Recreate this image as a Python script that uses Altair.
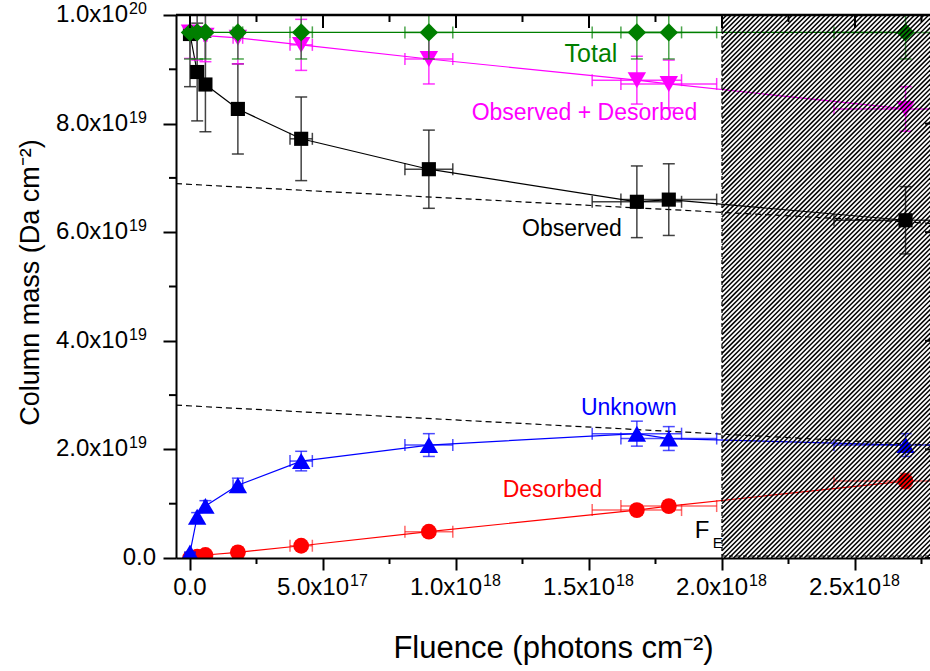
import numpy as np
import pandas as pd
import altair as alt

# ---------------- data ----------------
fluence = [0.0, 2.7e16, 5.8e16, 1.8e17, 4.18e17, 8.98e17, 1.68e18, 1.80e18, 2.69e18]
fluence_err = [0.0, 2.7e15, 5.8e15, 1.8e16, 4.2e16, 9.0e16, 1.68e17, 1.80e17, 2.69e17]

observed = [9.65e19, 8.95e19, 8.72e19, 8.27e19, 7.72e19, 7.16e19, 6.56e19, 6.60e19, 6.22e19]
observed_err = [9.7e18, 9.0e18, 8.7e18, 8.3e18, 7.7e18, 7.2e18, 6.6e18, 6.6e18, 6.2e18]

total = [9.68e19, 9.68e19, 9.68e19, 9.68e19, 9.68e19, 9.68e19, 9.68e19, 9.68e19, 9.68e19]
total_err = [4.9e18, 4.9e18, 4.9e18, 4.9e18, 4.9e18, 4.9e18, 4.9e18, 4.9e18, 4.9e18]

obs_des = [9.68e19, 9.65e19, 9.62e19, 9.58e19, 9.45e19, 9.19e19, 8.80e19, 8.73e19, 8.27e19]
obs_des_err = [4.8e18, 4.8e18, 4.8e18, 4.8e18, 4.7e18, 4.6e18, 4.4e18, 4.4e18, 4.1e18]

unknown = [1.0e18, 7.6e18, 9.6e18, 1.34e19, 1.785e19, 2.08e19, 2.29e19, 2.20e19, 2.08e19]
unknown_err = [1.0e17, 7.6e17, 9.6e17, 1.3e18, 1.8e18, 2.1e18, 2.3e18, 2.2e18, 2.1e18]

desorbed = [0.0, 2.5e17, 5.5e17, 1.05e18, 2.26e18, 4.84e18, 8.83e18, 9.57e18, 1.417e19]
desorbed_err = [0.0, 2.5e16, 5.5e16, 1.1e17, 2.3e17, 4.8e17, 8.8e17, 9.6e17, 1.4e18]

# dashed guide lines (values at the two ends of the fluence axis)
fit_fluence = [-5.26e16, 2.782e18]
observed_fit = [6.894e19, 6.164e19]
unknown_fit = [2.815e19, 2.079e19]

# hatched region start (F_E)
fe_fluence = 2.0e18

# tick values / labels (mantissa part and exponent part)
x_tick_values = [0.0, 5e17, 1e18, 1.5e18, 2e18, 2.5e18]
x_tick_main = ["0.0", "5.0x10", "1.0x10", "1.5x10", "2.0x10", "2.5x10"]
x_tick_exp = ["", "17", "18", "18", "18", "18"]
x_minor_values = [2.5e17, 7.5e17, 1.25e18, 1.75e18, 2.25e18, 2.75e18]
y_tick_values = [0.0, 2e19, 4e19, 6e19, 8e19, 1e20]
y_tick_main = ["0.0", "2.0x10", "4.0x10", "6.0x10", "8.0x10", "1.0x10"]
y_tick_exp = ["", "19", "19", "19", "19", "20"]
y_minor_values = [1e19, 3e19, 5e19, 7e19, 9e19]

# series annotations
ann_text = ["Total", "Observed + Desorbed", "Observed", "Unknown", "Desorbed"]
ann_x = [1.5075e18, 1.483e18, 1.436e18, 1.650e18, 1.363e18]
ann_y = [9.13e19, 8.06e19, 5.925e19, 2.631e19, 1.117e19]
ann_color = ["#007F00", "#FF00FF", "#000000", "#0000FF", "#FF0000"]
ann_size = [25, 23, 23, 23, 23]

# ---------------- layout ----------------
W, H = 754, 543
XMIN, XMAX = -5.26e16, 2.782e18
YMIN, YMAX = 0.0, 1e20
FONT = "Liberation Sans"
LAB = 24      # tick label size
EXP = 16      # exponent size

xscale = alt.Scale(domain=[XMIN, XMAX], nice=False, zero=False)
yscale = alt.Scale(domain=[YMIN, YMAX], nice=False, zero=False)

common_axis = dict(grid=False, domainColor="black", domainWidth=2, tickColor="black",
                   tickWidth=2, labels=False, titleFont=FONT,
                   titleColor="black", titleFontWeight="normal", zindex=1)

xaxis = alt.Axis(values=x_tick_values, title="Fluence (photons cm\u207b\u00b2)",
                 titleFontSize=31, titleY=99, titleBaseline="alphabetic", tickSize=12,
                 **common_axis)
yaxis = alt.Axis(values=y_tick_values, title="Column mass (Da cm\u207b\u00b2)",
                 titleFontSize=27, titleAngle=270, titleX=-146, titleY=267,
                 titleBaseline="middle", titleAlign="center", tickSize=13, **common_axis)


def X(f):
    return alt.X(f, type="quantitative", scale=xscale, axis=xaxis)


def Y(f):
    return alt.Y(f, type="quantitative", scale=yscale, axis=yaxis)


def series_layers(yvals, yerrs, color, shape, size, err_color, err_opacity):
    df = pd.DataFrame({"x": fluence, "xerr": fluence_err, "y": yvals, "yerr": yerrs})
    df["xlo"] = df["x"] - df["xerr"]
    df["xhi"] = df["x"] + df["xerr"]
    df["ylo"] = df["y"] - df["yerr"]
    df["yhi"] = df["y"] + df["yerr"]
    ycaps = pd.concat([pd.DataFrame({"x": df["x"], "c": df["ylo"]}),
                       pd.DataFrame({"x": df["x"], "c": df["yhi"]})])
    xcaps = pd.concat([pd.DataFrame({"y": df["y"], "c": df["xlo"]}),
                       pd.DataFrame({"y": df["y"], "c": df["xhi"]})])
    base = alt.Chart(df)
    layers = [
        base.mark_rule(color=err_color, strokeWidth=1.5, opacity=err_opacity, clip=True)
            .encode(x=X("x"), y=Y("ylo"), y2="yhi"),
        alt.Chart(ycaps).mark_tick(color=err_color, orient="horizontal", size=12,
                                   thickness=1.5, opacity=err_opacity, clip=True)
            .encode(x=X("x"), y=Y("c")),
        base.mark_rule(color=err_color, strokeWidth=1.5, opacity=err_opacity, clip=True)
            .encode(y=Y("y"), x=X("xlo"), x2="xhi"),
        alt.Chart(xcaps).mark_tick(color=err_color, orient="vertical", size=12,
                                   thickness=1.5, opacity=err_opacity, clip=True)
            .encode(x=X("c"), y=Y("y")),
        base.mark_line(color=color, strokeWidth=1.2, clip=True).encode(x=X("x"), y=Y("y")),
        base.mark_point(color=color, fill=color, filled=True, shape=shape, size=size,
                        opacity=1, clip=True).encode(x=X("x"), y=Y("y")),
    ]
    return layers


layers = []

# dashed guide lines
fit_df = pd.DataFrame({"x": fit_fluence + fit_fluence,
                       "y": observed_fit + unknown_fit,
                       "g": ["obs", "obs", "unk", "unk"]})
layers.append(alt.Chart(fit_df).mark_line(color="black", strokeWidth=1.2,
                                          strokeDash=[6, 4], clip=True)
              .encode(x=X("x"), y=Y("y"), detail="g:N"))

layers += series_layers(observed, observed_err, "#000000", "square", 200, "#222222", 0.85)
layers += series_layers(desorbed, desorbed_err, "#FF0000", "circle", 250, "#FF0000", 0.6)
layers += series_layers(unknown, unknown_err, "#0000FF", "triangle-up", 340, "#0000FF", 0.7)
layers += series_layers(obs_des, obs_des_err, "#FF00FF", "triangle-down", 340, "#FF00FF", 0.8)
layers += series_layers(total, total_err, "#007F00", "diamond", 340, "#007F00", 0.7)

# annotations
ann_df = pd.DataFrame({"t": ann_text, "x": ann_x, "y": ann_y, "c": ann_color, "s": ann_size})
layers.append(alt.Chart(ann_df).mark_text(font=FONT, align="center", baseline="alphabetic")
              .encode(x=X("x"), y=Y("y"), text="t:N",
                      color=alt.Color("c:N", scale=None),
                      size=alt.Size("s:Q", scale=None)))

# hatched region (diagonal stripes, 45 degrees on screen)
xpp = (XMAX - XMIN) / W
ypp = (YMAX - YMIN) / H
u_fe = (fe_fluence - XMIN) / xpp
rows = []
for c in np.arange(u_fe - H, W + 10, 4.7):
    v0 = max(0.0, u_fe - c)
    v1 = float(H)
    rows.append({"x1": XMIN + (c + v0) * xpp, "y1": v0 * ypp,
                 "x2": XMIN + (c + v1) * xpp, "y2": v1 * ypp})
hatch_df = pd.DataFrame(rows)
layers.append(alt.Chart(hatch_df).mark_rule(color="black", strokeWidth=1.5, clip=True)
              .encode(x=X("x1"), y=Y("y1"), x2="x2", y2="y2"))

fe_df = pd.DataFrame({"fe": [fe_fluence]})
layers.append(alt.Chart(fe_df).mark_rule(color="black", strokeWidth=1.2, strokeDash=[4, 3])
              .encode(x=X("fe"), y=alt.value(0), y2=alt.value(H)))
layers.append(alt.Chart(fe_df).mark_rule(color="black", strokeWidth=1.2, strokeDash=[4, 3])
              .encode(x=X("fe"), x2=alt.value(W), y=alt.value(H - 2)))

# F_E label
fe_lab = pd.DataFrame({"t": ["F", "E"], "x": [1.898e18, 1.965e18], "y": [3.62e18, 1.90e18],
                       "s": [24, 15]})
layers.append(alt.Chart(fe_lab).mark_text(font=FONT, align="left", baseline="alphabetic",
                                          color="black")
              .encode(x=X("x"), y=Y("y"), text="t:N", size=alt.Size("s:Q", scale=None)))

# frame and extra ticks
xmin_df = pd.DataFrame({"v": x_minor_values})
xmaj_df = pd.DataFrame({"v": x_tick_values})
ymin_df = pd.DataFrame({"v": y_minor_values})
ymaj_df = pd.DataFrame({"v": y_tick_values})
layers.append(alt.Chart(xmin_df).mark_rule(color="black", strokeWidth=2)
              .encode(x=X("v"), y=alt.value(H), y2=alt.value(H + 6)))
layers.append(alt.Chart(xmin_df).mark_rule(color="black", strokeWidth=2)
              .encode(x=X("v"), y=alt.value(0), y2=alt.value(7)))
layers.append(alt.Chart(xmaj_df).mark_rule(color="black", strokeWidth=2)
              .encode(x=X("v"), y=alt.value(0), y2=alt.value(13)))
layers.append(alt.Chart(ymin_df).mark_rule(color="black", strokeWidth=2)
              .encode(y=Y("v"), x=alt.value(-7), x2=alt.value(0)))
layers.append(alt.Chart(ymaj_df).mark_rule(color="black", strokeWidth=2)
              .encode(y=Y("v"), x=alt.value(W - 5), x2=alt.value(W)))
layers.append(alt.Chart(fe_df).mark_rule(color="black", strokeWidth=2.5)
              .encode(x=alt.value(0), x2=alt.value(W), y=alt.value(0)))

# tick labels with raised exponents
xlab_df = pd.DataFrame({"v": x_tick_values, "m": x_tick_main, "e": x_tick_exp})
ylab_df = pd.DataFrame({"v": y_tick_values, "m": y_tick_main, "e": y_tick_exp})
txt = dict(font=FONT, color="black")
layers.append(alt.Chart(xlab_df).transform_filter("datum.e != ''")
              .mark_text(align="right", baseline="top", fontSize=LAB, dx=26, **txt)
              .encode(x=X("v"), y=alt.value(H + 18), text="m:N"))
layers.append(alt.Chart(xlab_df).transform_filter("datum.e != ''")
              .mark_text(align="left", baseline="top", fontSize=EXP, dx=27, **txt)
              .encode(x=X("v"), y=alt.value(H + 15), text="e:N"))
layers.append(alt.Chart(xlab_df).transform_filter("datum.e == ''")
              .mark_text(align="center", baseline="top", fontSize=LAB, **txt)
              .encode(x=X("v"), y=alt.value(H + 18), text="m:N"))
layers.append(alt.Chart(ylab_df).transform_filter("datum.e != ''")
              .mark_text(align="right", baseline="middle", fontSize=LAB, **txt)
              .encode(y=Y("v"), x=alt.value(-48), text="m:N"))
layers.append(alt.Chart(ylab_df).transform_filter("datum.e != ''")
              .mark_text(align="left", baseline="middle", fontSize=EXP, dy=-6, **txt)
              .encode(y=Y("v"), x=alt.value(-47), text="e:N"))
layers.append(alt.Chart(ylab_df).transform_filter("datum.e == ''")
              .mark_text(align="right", baseline="middle", fontSize=LAB, **txt)
              .encode(y=Y("v"), x=alt.value(-20), text="m:N"))

chart = alt.layer(*layers).properties(
    width=W, height=H,
    autosize=alt.AutoSizeParams(type="none"),
    padding={"left": 176, "top": 15, "right": 0, "bottom": 113},
).configure_view(stroke=None).configure(font=FONT)

chart.save("out.html", embed_options={"renderer": "svg", "actions": False})
